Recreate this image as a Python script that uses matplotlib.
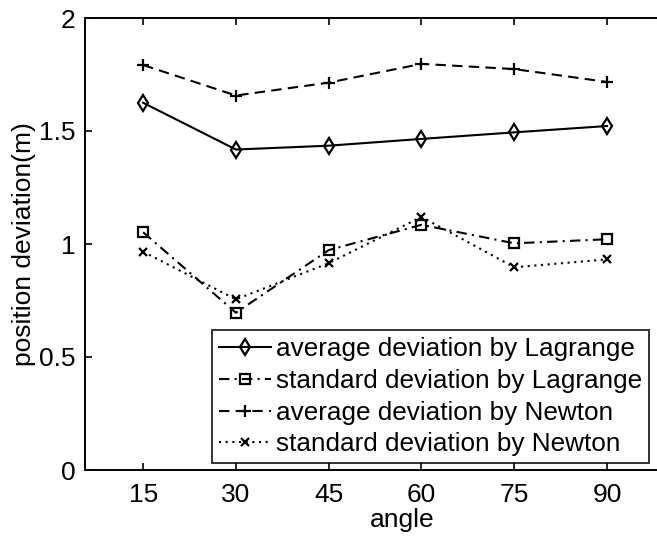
import matplotlib
matplotlib.use("Agg")
import matplotlib.pyplot as plt

angles = [15, 30, 45, 60, 75, 90]
avg_lagrange = [1.625, 1.418, 1.435, 1.465, 1.494, 1.522]
std_lagrange = [1.052, 0.696, 0.973, 1.085, 1.003, 1.021]
avg_newton = [1.792, 1.657, 1.714, 1.797, 1.774, 1.717]
std_newton = [0.966, 0.755, 0.915, 1.120, 0.897, 0.932]

labels = ["average deviation by Lagrange", "standard deviation by Lagrange",
          "average deviation by Newton", "standard deviation by Newton"]
xticks = [15, 30, 45, 60, 75, 90]
yticks = [0, 0.5, 1, 1.5, 2]
yticklabels = ["0", "0.5", "1", "1.5", "2"]

plt.rcParams['font.family'] = ['Liberation Sans', 'DejaVu Sans']

W, H = 657, 537
fig = plt.figure(figsize=(W / 100, H / 100), dpi=100)
left_px, right_px, top_px, bot_px = 85, 720, 18, 470
ax = fig.add_axes([left_px / W, 1 - bot_px / H, (right_px - left_px) / W, (bot_px - top_px) / H])

kw = dict(color='black', lw=1.5, markerfacecolor='none', markeredgewidth=1.6)
ax.plot(angles, avg_lagrange, linestyle='-', marker='d', markersize=8, label=labels[0], **kw)
ax.plot(angles, std_lagrange, linestyle=(0, (5, 2.5, 1, 2.5)), marker='s', markersize=7.5, label=labels[1], **kw)
ax.plot(angles, avg_newton, linestyle=(0, (5, 3)), marker='+', markersize=9, label=labels[2], **kw)
ax.plot(angles, std_newton, linestyle=(0, (1, 2.2)), marker='x', markersize=6, label=labels[3], **kw)

ax.set_xlim(5.6, 90 + (right_px - 607) / 6.187)
ax.set_ylim(0, 2)
ax.set_xticks(xticks)
ax.set_xticklabels([str(t) for t in xticks])
ax.set_yticks(yticks)
ax.set_yticklabels(yticklabels)
ax.tick_params(direction='in', length=5, width=1.2, top=True, right=True, labelsize=19)
ax.tick_params(axis='x', pad=9)
ax.tick_params(axis='y', pad=7)
for s in ax.spines.values():
    s.set_linewidth(1.4)

ax.set_xlabel("angle", fontsize=19, labelpad=1)
ax.set_ylabel("position deviation(m)", fontsize=19, labelpad=2)

leg = ax.legend(loc='lower left', bbox_to_anchor=(212 / W, 1 - 463 / H), bbox_transform=fig.transFigure,
                borderaxespad=0, fontsize=18.8, frameon=True, fancybox=False, edgecolor='black',
                handlelength=2.0, handletextpad=0.2, borderpad=0.25, labelspacing=0.3)
leg.get_frame().set_linewidth(1.4)

fig.savefig("out.png", dpi=100)
